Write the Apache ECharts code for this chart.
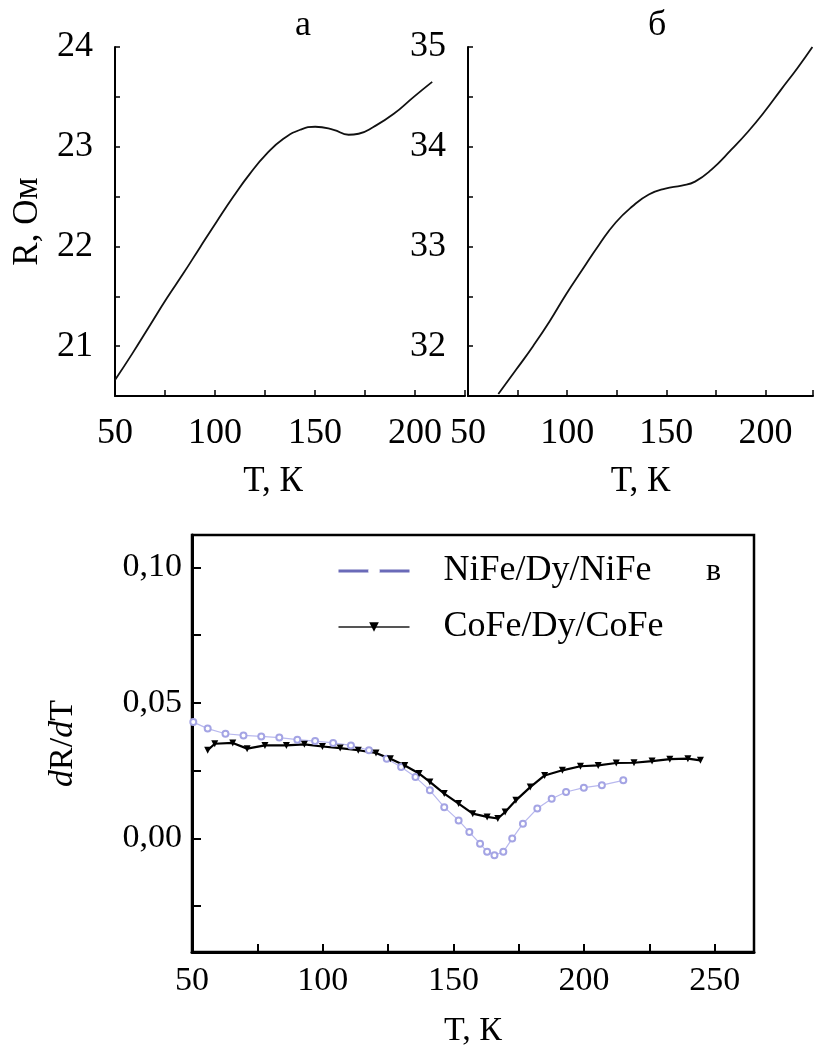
<!DOCTYPE html>
<html><head><meta charset="utf-8">
<script src="https://cdn.jsdelivr.net/npm/echarts@6/dist/echarts.min.js"></script>
<style>html,body{margin:0;padding:0;background:#fff}#c{width:816px;height:1057px}</style>
</head><body><div id="c"></div>
<script>
// Panel а: R(T)
const tA = [50, 58.8, 67.5, 75.9, 84.2, 92.5, 100.9, 109.2, 117.5, 125.9, 134.2, 142.6, 150.1, 159.3, 166.8, 171.8, 179.4, 189.4, 199.4, 208.6];
const rA = [20.66, 20.93, 21.21, 21.48, 21.73, 21.99, 22.25, 22.50, 22.73, 22.93, 23.08, 23.17, 23.20, 23.17, 23.12, 23.13, 23.20, 23.33, 23.50, 23.65];
// Panel б: R(T)
const tB = [65.3, 74.5, 82.8, 91.2, 99.5, 107.8, 116.2, 124.5, 132.8, 141.2, 149.5, 157.8, 164.5, 172.8, 182.8, 191.2, 199.5, 207.8, 216.2, 223.7];
const rB = [31.52, 31.77, 32.00, 32.25, 32.52, 32.77, 33.02, 33.24, 33.40, 33.52, 33.58, 33.61, 33.65, 33.77, 33.97, 34.15, 34.35, 34.57, 34.79, 35.00];
// Panel в: dR/dT
const tNi = [50.5, 56.0, 62.8, 69.7, 76.5, 83.4, 90.3, 97.1, 104.0, 110.8, 117.7, 124.5, 130.0, 135.5, 141.0, 146.5, 152.0, 156.1, 160.2, 162.9, 165.7, 169.1, 172.5, 176.6, 182.1, 187.6, 193.1, 199.9, 206.8, 215.0];
const vNi = [0.0429, 0.0405, 0.0386, 0.0380, 0.0376, 0.0372, 0.0364, 0.0359, 0.0352, 0.0343, 0.0325, 0.0294, 0.0263, 0.0226, 0.0177, 0.0115, 0.0066, 0.0023, -0.0020, -0.0050, -0.0063, -0.0050, -0.0001, 0.0054, 0.0110, 0.0146, 0.0171, 0.0187, 0.0196, 0.0214];
const tCo = [56.0, 58.7, 65.6, 71.1, 77.9, 86.1, 93.0, 99.9, 106.7, 113.6, 120.4, 125.9, 131.4, 136.9, 141.0, 146.5, 152.0, 157.4, 162.9, 167.0, 169.8, 173.9, 179.4, 184.9, 191.7, 198.6, 205.4, 212.3, 219.1, 226.0, 232.8, 239.7, 244.5];
const vCo = [0.0325, 0.0349, 0.0352, 0.0331, 0.0343, 0.0343, 0.0347, 0.0339, 0.0333, 0.0325, 0.0315, 0.0294, 0.0269, 0.0239, 0.0208, 0.0165, 0.0128, 0.0091, 0.0079, 0.0073, 0.0097, 0.0140, 0.0189, 0.0232, 0.0251, 0.0266, 0.0269, 0.0278, 0.0279, 0.0285, 0.0292, 0.0294, 0.0288];
const seriesNames = ['NiFe/Dy/NiFe', 'CoFe/Dy/CoFe'];
const yTicksC = [-0.025, 0, 0.025, 0.05, 0.075, 0.10];
const yLabelsC = [0, 0.05, 0.10];

const zip = (a, b) => a.map((v, i) => [v, b[i]]);
const F = 'Liberation Serif';
const black = '#000';

function topX(grid, max) {
  return {
    gridIndex: grid, type: 'value', min: 50, max: max, interval: 25,
    axisLine: {onZero: false, lineStyle: {color: black, width: 2}},
    axisTick: {inside: true, length: 6, lineStyle: {color: black, width: 1.5}},
    splitLine: {show: false},
    axisLabel: {color: black, fontFamily: F, fontSize: 36, margin: 20,
      formatter: v => (v % 50 === 0 ? String(v) : '')},
    name: 'T, К', nameLocation: 'middle', nameGap: 68, nameMoveOverlap: false,
    nameTextStyle: {color: black, fontFamily: F, fontSize: 35}
  };
}
function topY(grid, min, max, name) {
  return {
    gridIndex: grid, type: 'value', min: min, max: max, interval: 0.5,
    axisLine: {show: true, onZero: false, lineStyle: {color: black, width: 2}},
    axisTick: {inside: true, length: 5, lineStyle: {color: black, width: 1.5}},
    splitLine: {show: false},
    axisLabel: {color: black, fontFamily: F, fontSize: 36, margin: 22, padding: [16, 0, 0, 0],
      formatter: v => (Math.abs(v - Math.round(v)) < 1e-6 ? String(Math.round(v)) : '')},
    name: name, nameLocation: 'middle', nameGap: 70, nameMoveOverlap: false,
    nameTextStyle: {color: black, fontFamily: F, fontSize: 35}
  };
}

const chart = echarts.init(document.getElementById('c'), null, {renderer: 'canvas'});
const xa = topX(0, 225);
xa.nameTextStyle.padding = [0, 34, 0, 0];
const xb = topX(1, 224);
chart.setOption({
  animation: false,
  backgroundColor: '#fff',
  grid: [
    {left: 115, top: 47, width: 350, height: 349},
    {left: 468, top: 47, width: 348, height: 349},
    {left: 192, top: 535, width: 562, height: 417, show: true, borderColor: black, borderWidth: 2.5}
  ],
  xAxis: [
    xa, xb,
    {gridIndex: 2, type: 'value', min: 50, max: 265, interval: 25,
     axisLine: {onZero: false, lineStyle: {color: black, width: 3}},
     axisTick: {inside: true, length: 8, lineStyle: {color: black, width: 2}},
     splitLine: {show: false},
     axisLabel: {color: black, fontFamily: F, fontSize: 34, margin: 12,
       formatter: v => (v % 50 === 0 ? String(v) : '')},
     name: 'T, К', nameLocation: 'middle', nameGap: 62, nameMoveOverlap: false,
     nameTextStyle: {color: black, fontFamily: F, fontSize: 34}}
  ],
  yAxis: [
    topY(0, 20.5, 24, 'R, Ом'),
    Object.assign(topY(1, 31.5, 35, ''), {name: ''}),
    {gridIndex: 2, type: 'value', min: -0.042, max: 0.112,
     axisLine: {show: true, onZero: false, lineStyle: {color: black, width: 3}},
     axisTick: {inside: true, length: 9, customValues: yTicksC, lineStyle: {color: black, width: 2}},
     splitLine: {show: false},
     axisLabel: {color: black, fontFamily: F, fontSize: 34, margin: 10, customValues: yLabelsC,
       formatter: v => v.toFixed(2).replace('.', ',')},
     name: '{i|d}R/{i|d}T', nameLocation: 'middle', nameGap: 112, nameMoveOverlap: false,
     nameTextStyle: {color: black, fontFamily: F, fontSize: 34,
       rich: {i: {fontStyle: 'italic', fontFamily: F, fontSize: 34, color: black}}}}
  ],
  legend: {
    orient: 'vertical', left: 337, top: 553, padding: 0, itemWidth: 71, itemHeight: 12, itemGap: 20,
    textStyle: {color: black, fontFamily: F, fontSize: 36, lineHeight: 36, padding: [0, 0, 0, 29]},
    data: [
      {name: seriesNames[0], lineStyle: {color: '#6a6ab8', width: 3}, itemStyle: {color: '#fff', borderColor: '#b0b0e0'}},
      {name: seriesNames[1], lineStyle: {color: '#555', width: 2}}
    ]
  },
  graphic: [
    {type: 'text', left: 295, top: 8, style: {text: 'а', font: '36px "Liberation Serif"', fill: black}},
    {type: 'text', left: 648, top: 8, style: {text: 'б', font: '36px "Liberation Serif"', fill: black}},
    {type: 'text', left: 706, top: 556, style: {text: 'в', font: '32px "Liberation Serif"', fill: black}}
  ],
  series: [
    {type: 'line', xAxisIndex: 0, yAxisIndex: 0, data: zip(tA, rA), smooth: 0.5, showSymbol: false,
     lineStyle: {color: '#111', width: 1.8}},
    {type: 'line', xAxisIndex: 1, yAxisIndex: 1, data: zip(tB, rB), smooth: 0.5, showSymbol: false,
     lineStyle: {color: '#111', width: 1.8}},
    {type: 'line', name: seriesNames[0], xAxisIndex: 2, yAxisIndex: 2, data: zip(tNi, vNi),
     symbol: 'emptyCircle', symbolSize: 6, showSymbol: true,
     itemStyle: {color: '#a4a4e4', borderWidth: 1},
     lineStyle: {color: '#b8b8ee', width: 1.2}},
    {type: 'line', name: seriesNames[1], xAxisIndex: 2, yAxisIndex: 2, data: zip(tCo, vCo),
     symbol: 'triangle', symbolRotate: 180, symbolSize: 7, showSymbol: true,
     itemStyle: {color: '#000'},
     lineStyle: {color: '#000', width: 2.2}}
  ]
});
</script></body></html>
